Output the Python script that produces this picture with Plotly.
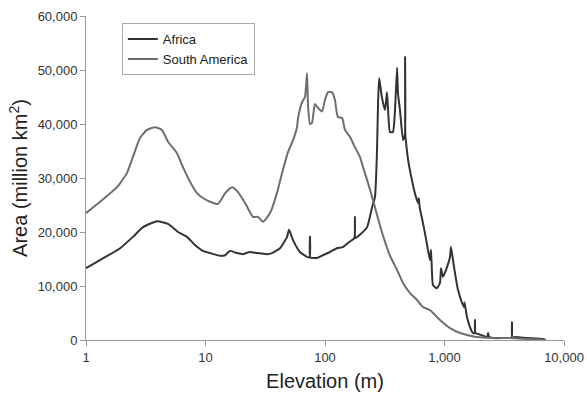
import plotly.graph_objects as go

# South America: elevation (m), area
sa_elev = [1.0, 1.31, 1.82, 2.2, 2.47, 2.83, 3.24, 3.78, 4.32, 4.86, 5.77, 6.48, 7.42, 8.49, 9.53,
           10.9, 12.7, 14.6, 16.7, 18.7, 21.4, 25.0, 27.5, 30.3, 34.7, 39.6, 43.7, 49.0, 54.0,
           58.3, 59.4, 64.2, 68.0, 70.7, 72.1, 74.9, 77.8, 82.4, 87.4, 94.4, 100, 106, 114, 121,
           128, 139, 147, 162, 178, 196, 208, 229, 252, 278, 306, 350, 401, 450, 514, 589, 661,
           756, 801, 917, 1112, 1349, 1634, 1983, 2546, 3532, 4900, 6300, 7000]
sa_area = [23500, 25600, 28300, 30900, 33900, 37400, 38900, 39400, 38900, 36700, 34600, 32000,
           29300, 27200, 26300, 25600, 25200, 27200, 28300, 27400, 25400, 22800, 22800, 21900,
           23500, 27200, 30900, 34800, 37000, 39400, 41000, 44000, 45000, 49400, 43500, 40000,
           40200, 43700, 43000, 42300, 44500, 45900, 45900, 44500, 41300, 41100, 38900, 37600,
           35700, 33900, 32000, 29100, 25900, 22500, 19300, 15600, 12960, 10560, 8700, 7410,
           6110, 5560, 5000, 3700, 2200, 1300, 800, 500, 350, 350, 200, 100, 0]

# Africa: elevation (m), area
af_elev = [1.0, 1.31, 1.93, 2.47, 3.0, 3.93, 4.86, 5.89, 7.0, 8.17, 9.53, 10.9, 13.2, 14.6, 16.0,
           18.3, 20.6, 23.5, 27.0, 32.7, 36.0, 42.0, 48.1, 50.0, 54.0, 61.7, 70.7, 74.5, 74.9,
           75.3, 85.6, 96.0, 110, 126, 141, 156, 176, 178, 180, 196, 225, 248, 262, 272, 278,
           284, 299, 318, 330, 336, 350, 370, 384, 401, 408, 424, 450, 466, 468, 470, 477, 496,
           534, 565, 599, 610, 620, 647, 686, 727, 756, 771, 786, 801, 864, 917, 935, 972, 1050,
           1112, 1133, 1178, 1224, 1296, 1400, 1455, 1470, 1539, 1634, 1732, 1790, 1800, 1810,
           1983, 2274, 2318, 2360, 2546, 3532, 3650, 3670, 3690, 3890, 4900, 6680, 7000]
af_area = [13300, 14800, 17000, 19100, 20900, 22000, 21500, 20000, 19100, 17600, 16500, 16100,
           15600, 15700, 16500, 16100, 15900, 16300, 16100, 15900, 16100, 17000, 19100, 20400,
           18500, 16300, 15400, 15300, 19100, 15300, 15200, 15700, 16300, 17000, 17200, 18000,
           18900, 22800, 18900, 19500, 20900, 24600, 26500, 34600, 43900, 48500, 45000, 42600,
           45900, 43200, 38500, 38500, 42000, 50400, 45700, 42600, 37000, 38000, 52400, 38000,
           36500, 33300, 29600, 27200, 25400, 26300, 24500, 22600, 19800, 16700, 14800, 16700,
           12400, 10200, 9600, 10600, 13300, 11700, 13500, 15400, 17200, 14800, 12400, 9300,
           6900, 6100, 7000, 4300, 2400, 1300, 1300, 3700, 1300, 1000, 560, 1300, 560, 370, 370,
           370, 3300, 370, 560, 370, 185, 0]

x_ticks = [1, 10, 100, 1000, 10000]
x_tick_text = ["1", "10", "100", "1,000", "10,000"]
y_ticks = [0, 10000, 20000, 30000, 40000, 50000, 60000]

fig = go.Figure()
fig.add_trace(go.Scatter(x=af_elev, y=af_area, mode="lines", name="Africa",
                         line=dict(color="#333333", width=2, shape="spline", smoothing=0.5)))
fig.add_trace(go.Scatter(x=sa_elev, y=sa_area, mode="lines", name="South America",
                         line=dict(color="#6e6e6e", width=2, shape="spline", smoothing=0.5)))

fig.update_layout(
    width=587, height=395,
    margin=dict(l=86, r=23, t=16, b=55),
    paper_bgcolor="white", plot_bgcolor="white",
    font=dict(family="Arial, Liberation Sans, sans-serif", color="#333333", size=13),
    showlegend=True,
    legend=dict(x=0.075, y=0.978, xanchor="left", yanchor="top",
                bordercolor="#aaaaaa", borderwidth=1, bgcolor="white",
                font=dict(size=13, color="#222222"), itemwidth=30,
                tracegroupgap=0),
)
fig.update_xaxes(type="log", range=[0, 4], tickvals=x_ticks, ticktext=x_tick_text,
                 showgrid=False, zeroline=False, showline=True, linecolor="#999999",
                 linewidth=1, ticks="outside", ticklen=5, tickcolor="#999999",
                 automargin=False,
                 title=dict(text="Elevation (m)", font=dict(size=20, color="#222222"), standoff=10))
fig.update_yaxes(range=[0, 60000], tickvals=y_ticks, tickformat=",d",
                 showgrid=False, zeroline=False, showline=True, linecolor="#999999",
                 linewidth=1, ticks="outside", ticklen=5, tickcolor="#999999",
                 automargin=False,
                 title=dict(text="Area (million km<sup>2</sup>)", font=dict(size=20, color="#222222"),
                            standoff=4))

fig.write_html("out.html", config={"displayModeBar": False},
               post_script="document.body.style.margin='0';document.body.style.overflow='hidden';")
